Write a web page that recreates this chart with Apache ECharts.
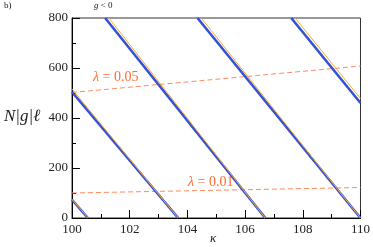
<!DOCTYPE html>
<html><head><meta charset="utf-8">
<script src="https://cdn.jsdelivr.net/npm/echarts@6/dist/echarts.min.js"></script>
<style>html,body{margin:0;padding:0;background:#fff}#c{width:373px;height:247px}</style>
</head><body><div id="c"></div>
<script>
const xRange=[100,110];
const yRange=[0,800];
const xTickStep=2;
const yTickStep=200;
// blue branches (kappa, N|g|l)
const blue1=[[100,73],[100.55,0]];
const blue2=[[100,504],[103.68,0]];
const blue3=[[101.15,800],[106.7,0]];
const blue4=[[104.35,800],[110,0]];
const blue5=[[107.6,800],[110,460]];
// orange branches
const orange1=[[100,75],[100.56,0]];
const orange2=[[100,516],[103.68,0]];
const orange3=[[101.28,800],[106.7,0]];
const orange4=[[104.48,800],[110,0]];
const orange5=[[107.73,800],[110,478]];
// constant-lambda dashed lines
const lambda05=[[100,502],[110,608]];
const lambda01=[[100,100],[110,122]];
const labels05=['λ',' = 0.05'];
const labels01=['λ',' = 0.01'];

const chart=echarts.init(document.getElementById('c'),null,{renderer:'canvas'});
const serif='Liberation Serif';
const BLUE='#3352d4', ORANGE='#f7a935', DASH='#ff8a5c', LBL='#ff6a33';
function lineSeries(data,color,width,z,dashed){
  return {type:'line',data:data,showSymbol:false,symbol:'none',silent:true,animation:false,z:z,clip:true,
    lineStyle:{color:color,width:width,type:dashed?[5,3]:'solid'}};
}
const series=[
  lineSeries(lambda05,DASH,1,1,true),
  lineSeries(lambda01,DASH,1,1,true),
  lineSeries(blue1,BLUE,2.6,2),lineSeries(blue2,BLUE,2.6,2),lineSeries(blue3,BLUE,2.6,2),lineSeries(blue4,BLUE,2.6,2),lineSeries(blue5,BLUE,2.6,2),
  lineSeries(orange1,ORANGE,1,3),lineSeries(orange2,ORANGE,1,3),lineSeries(orange3,ORANGE,1,3),lineSeries(orange4,ORANGE,1,3),lineSeries(orange5,ORANGE,1,3)
];
const tickFont={fontFamily:serif,fontSize:13,color:'#222'};
chart.setOption({
  animation:false,
  grid:{left:72,right:11,top:18,bottom:29,show:true,borderColor:'#333',borderWidth:1},
  xAxis:{type:'value',min:xRange[0],max:xRange[1],interval:xTickStep,
    axisLine:{lineStyle:{color:'#000',width:1}},
    axisTick:{inside:true,length:8,lineStyle:{color:'#000'}},
    minorTick:{show:true,splitNumber:2,length:4,lineStyle:{color:'#000'}},
    splitLine:{show:false},
    axisLabel:Object.assign({margin:5},tickFont)},
  yAxis:{type:'value',min:yRange[0],max:yRange[1],interval:yTickStep,
    axisLine:{show:true,lineStyle:{color:'#000',width:1}},
    axisTick:{show:true,inside:true,length:8,lineStyle:{color:'#000'}},
    minorTick:{show:true,splitNumber:2,length:4,lineStyle:{color:'#000'}},
    splitLine:{show:false},
    axisLabel:Object.assign({margin:4},tickFont)},
  series:series,
  graphic:[
    {type:'text',left:4,top:1,style:{text:'b)',font:'9px '+serif,fill:'#222'}},
    {type:'text',left:94,top:1,style:{text:'{i|g} < 0',font:'9px '+serif,fill:'#222',rich:{i:{fontStyle:'italic',fontFamily:serif,fontSize:9}}}},
    {type:'text',left:4,top:108,style:{text:'N|g|ℓ',font:'italic 17px '+serif,fill:'#222'}},
    {type:'text',left:210,top:232,style:{text:'κ',font:'italic 13px '+serif,fill:'#222'}},
    {type:'text',left:93,top:70,style:{text:'{i|'+labels05[0]+'}'+labels05[1],font:'14px '+serif,fill:LBL,rich:{i:{fontStyle:'italic',fontFamily:serif,fontSize:14,color:LBL}}}},
    {type:'text',left:188,top:175,style:{text:'{i|'+labels01[0]+'}'+labels01[1],font:'14px '+serif,fill:LBL,rich:{i:{fontStyle:'italic',fontFamily:serif,fontSize:14,color:LBL}}}}
  ]
});
</script></body></html>
